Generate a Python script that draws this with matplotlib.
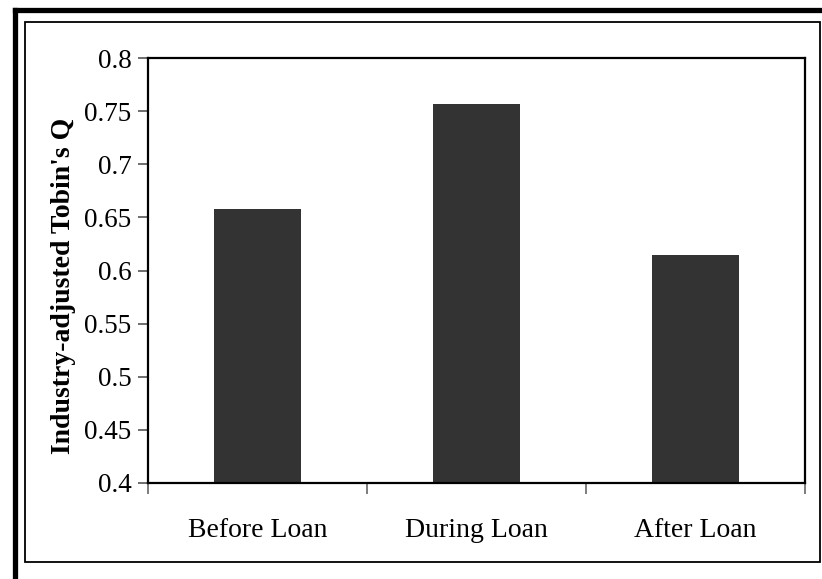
import matplotlib
matplotlib.use('Agg')
import matplotlib.pyplot as plt
from matplotlib.lines import Line2D
from matplotlib.patches import Rectangle
import numpy as np

# data
periods = ['Before Loan', 'During Loan', 'After Loan']
tobins_q = [0.658, 0.757, 0.615]
y_ticks = [0.4, 0.45, 0.5, 0.55, 0.6, 0.65, 0.7, 0.75, 0.8]
y_label = "Industry-adjusted Tobin's Q"

W, H = 822, 579
plt.rcParams['font.family'] = ['Liberation Serif', 'DejaVu Serif']

fig = plt.figure(figsize=(W / 100, H / 100), dpi=100)
ax = fig.add_axes([148 / W, 1 - 483 / H, (805 - 148) / W, (483 - 58) / H])

x = np.arange(len(periods))
ax.bar(x, tobins_q, width=0.40, color='#333333', edgecolor='none')

ax.set_xlim(-0.5, len(periods) - 0.5)
ax.set_ylim(0.4, 0.8)
ax.set_yticks(y_ticks)
ax.set_yticklabels([('%g' % v) for v in y_ticks], fontsize=19.5)
ax.set_xticks(x)
ax.set_xticklabels(periods, fontsize=20)
ax.set_xticks(np.arange(-0.5, len(periods)), minor=True)
ax.tick_params(axis='x', which='major', length=0, pad=25)
ax.tick_params(axis='x', which='minor', length=8, width=1.2, color='#666666', direction='out')
ax.tick_params(axis='y', length=7, width=1.2, color='#555555', direction='out', pad=5)

for s in ax.spines.values():
    s.set_linewidth(1.6)
    s.set_color('black')

ax.set_ylabel(y_label, fontsize=20, fontweight='bold')
ax.yaxis.set_label_coords(-0.110, 0.463)

# inner chart frame
fig.add_artist(Rectangle((25 / W, 1 - 562 / H), (820 - 25) / W, (562 - 22) / H,
                         transform=fig.transFigure, fill=False, lw=1.3, ec='black'))
# thick page border (left and top only, cropped image)
fig.add_artist(Line2D([14.5 / W, 14.5 / W], [0, 1 - 9.5 / H], transform=fig.transFigure,
                      lw=3.8, color='black', solid_capstyle='projecting'))
fig.add_artist(Line2D([14.5 / W, 1], [1 - 9.5 / H, 1 - 9.5 / H], transform=fig.transFigure,
                      lw=3.8, color='black', solid_capstyle='projecting'))

fig.savefig('out.png', dpi=100)
